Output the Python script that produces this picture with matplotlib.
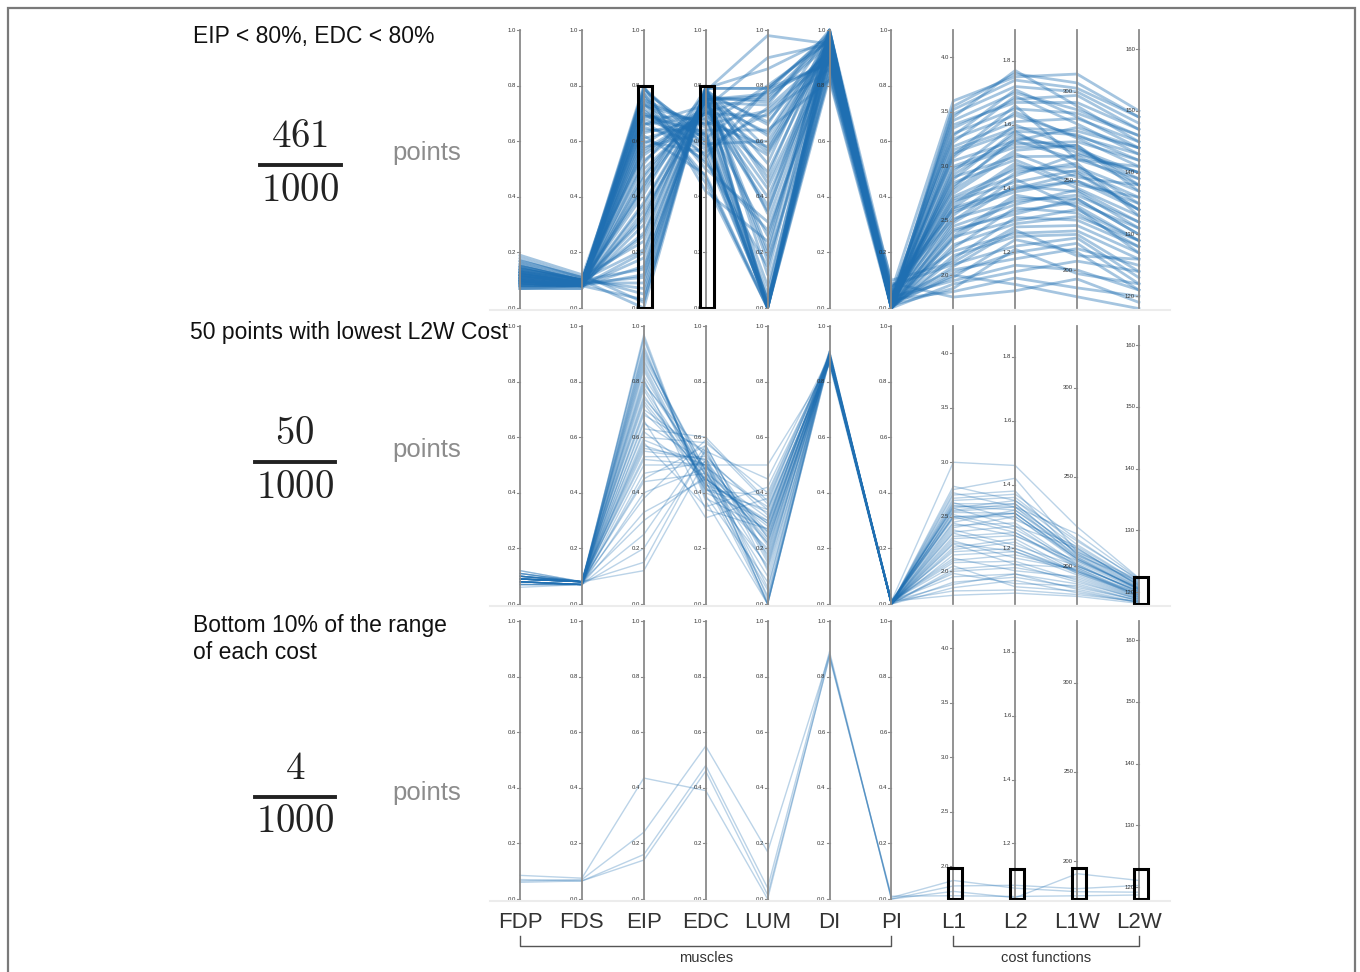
"""
Parallel coordinates: muscle activations (normalised) and cost functions,
three filtered subsets of 1000 sampled points.
"""
import numpy as np
import matplotlib
matplotlib.use("Agg")
import matplotlib.pyplot as plt
from matplotlib.patches import Rectangle
from matplotlib.lines import Line2D

plt.rcParams["font.family"] = ["Liberation Sans", "DejaVu Sans"]
plt.rcParams["mathtext.fontset"] = "cm"

W, H = 1360, 972
AXES_NAMES = ["FDP", "FDS", "EIP", "EDC", "LUM", "DI", "PI", "L1", "L2", "L1W", "L2W"]
# displayed range of each vertical axis (muscles are 0..1)
AXIS_RANGE = {"L1": (1.70, 4.25), "L2": (1.026, 1.897),
              "L1W": (178.7, 334.7), "L2W": (118.1, 163.1)}
MUSCLE_TICKS = [0.0, 0.2, 0.4, 0.6, 0.8, 1.0]
COST_TICKS = {"L1": [2.0, 2.5, 3.0, 3.5, 4.0], "L2": [1.2, 1.4, 1.6, 1.8],
              "L1W": [200, 250, 300], "L2W": [120, 130, 140, 150, 160]}
LINE_COLOR = "#1f6fb2"

# ---- panel 1 : EIP < 80%, EDC < 80%  (461 points, drawn subset) ----
p1_fdp = [0.12, 0.09, 0.15, 0.08, 0.11, 0.17, 0.10, 0.13,
          0.07, 0.14, 0.09, 0.12, 0.19, 0.10, 0.08, 0.13,
          0.11, 0.16, 0.09, 0.12, 0.10, 0.14, 0.08, 0.11,
          0.13, 0.07, 0.15, 0.10, 0.12, 0.09, 0.18, 0.11,
          0.13, 0.08, 0.10, 0.14, 0.12, 0.09, 0.11, 0.16,
          0.10, 0.13, 0.08, 0.12, 0.15, 0.09, 0.11, 0.14,
          0.10, 0.07, 0.12, 0.13, 0.09, 0.17, 0.11, 0.10,
          0.14, 0.08, 0.12, 0.11, 0.13, 0.09, 0.15, 0.10]
p1_fds = [0.09, 0.08, 0.10, 0.08, 0.09, 0.11, 0.08, 0.09,
          0.08, 0.10, 0.09, 0.09, 0.12, 0.08, 0.08, 0.09,
          0.09, 0.10, 0.08, 0.09, 0.08, 0.10, 0.08, 0.09,
          0.10, 0.07, 0.10, 0.08, 0.09, 0.08, 0.11, 0.09,
          0.09, 0.08, 0.08, 0.10, 0.09, 0.08, 0.09, 0.10,
          0.08, 0.09, 0.08, 0.09, 0.10, 0.08, 0.09, 0.10,
          0.08, 0.07, 0.09, 0.09, 0.08, 0.11, 0.09, 0.08,
          0.10, 0.08, 0.09, 0.09, 0.10, 0.08, 0.10, 0.08]
p1_eip = [0.78, 0.12, 0.55, 0.70, 0.33, 0.05, 0.62, 0.74,
          0.45, 0.21, 0.79, 0.66, 0.02, 0.58, 0.38, 0.72,
          0.27, 0.68, 0.50, 0.09, 0.76, 0.61, 0.15, 0.43,
          0.71, 0.35, 0.00, 0.64, 0.52, 0.77, 0.24, 0.69,
          0.41, 0.73, 0.18, 0.57, 0.80, 0.30, 0.65, 0.07,
          0.48, 0.75, 0.60, 0.26, 0.70, 0.53, 0.11, 0.67,
          0.37, 0.79, 0.44, 0.63, 0.20, 0.74, 0.59, 0.03,
          0.69, 0.47, 0.77, 0.32, 0.56, 0.73, 0.14, 0.66]
p1_edc = [0.62, 0.79, 0.70, 0.55, 0.76, 0.78, 0.48, 0.66,
          0.73, 0.77, 0.58, 0.69, 0.80, 0.63, 0.75, 0.52,
          0.78, 0.60, 0.71, 0.79, 0.45, 0.67, 0.76, 0.74,
          0.57, 0.72, 0.79, 0.64, 0.77, 0.50, 0.75, 0.68,
          0.78, 0.61, 0.73, 0.70, 0.42, 0.76, 0.59, 0.79,
          0.74, 0.65, 0.56, 0.78, 0.62, 0.71, 0.77, 0.53,
          0.75, 0.60, 0.79, 0.68, 0.76, 0.47, 0.72, 0.78,
          0.63, 0.74, 0.54, 0.77, 0.70, 0.66, 0.79, 0.73]
p1_lum = [0.00, 0.45, 0.78, 0.02, 0.62, 0.21, 0.00, 0.80,
          0.35, 0.01, 0.70, 0.55, 0.12, 0.00, 0.76, 0.28,
          0.66, 0.03, 0.49, 0.79, 0.00, 0.58, 0.17, 0.73,
          0.01, 0.40, 0.86, 0.64, 0.00, 0.31, 0.75, 0.08,
          0.52, 0.78, 0.02, 0.69, 0.24, 0.00, 0.60, 0.79,
          0.43, 0.05, 0.72, 0.98, 0.00, 0.37, 0.67, 0.15,
          0.77, 0.01, 0.57, 0.26, 0.74, 0.00, 0.90, 0.47,
          0.03, 0.63, 0.79, 0.19, 0.00, 0.71, 0.34, 0.56]
p1_di = [0.97, 0.92, 0.99, 0.88, 0.95, 1.00, 0.90, 0.96,
         0.93, 0.98, 0.86, 0.94, 1.00, 0.91, 0.97, 0.89,
         0.99, 0.84, 0.95, 0.98, 0.92, 0.96, 0.87, 1.00,
         0.94, 0.90, 0.97, 0.82, 0.99, 0.93, 0.95, 0.91,
         1.00, 0.88, 0.96, 0.93, 0.98, 0.85, 0.94, 0.97,
         0.90, 0.99, 0.92, 0.95, 0.87, 1.00, 0.93, 0.96,
         0.89, 0.98, 0.94, 0.91, 0.97, 0.83, 0.95, 0.99,
         0.92, 0.96, 0.88, 1.00, 0.94, 0.90, 0.98, 0.93]
p1_pi = [0.01, 0.03, 0.00, 0.05, 0.02, 0.00, 0.07, 0.01,
         0.02, 0.00, 0.04, 0.01, 0.09, 0.02, 0.00, 0.03,
         0.01, 0.06, 0.00, 0.02, 0.03, 0.01, 0.00, 0.04,
         0.02, 0.08, 0.01, 0.00, 0.03, 0.02, 0.05, 0.00,
         0.01, 0.03, 0.02, 0.00, 0.06, 0.01, 0.02, 0.04,
         0.00, 0.02, 0.10, 0.01, 0.03, 0.00, 0.02, 0.05,
         0.01, 0.00, 0.03, 0.02, 0.04, 0.01, 0.00, 0.07,
         0.02, 0.01, 0.03, 0.00, 0.02, 0.04, 0.01, 0.03]
p1_l1 = [2.45, 3.10, 1.92, 2.78, 3.42, 2.15, 2.60, 3.55,
         2.02, 2.88, 3.25, 2.33, 1.80, 2.70, 3.05, 2.50,
         3.35, 2.22, 2.95, 1.98, 2.62, 3.18, 2.40, 2.85,
         3.48, 2.10, 2.55, 3.00, 1.85, 2.75, 3.30, 2.28,
         2.92, 2.05, 3.15, 2.48, 3.60, 2.36, 2.68, 1.95,
         3.22, 2.58, 2.12, 3.38, 2.82, 2.25, 3.08, 2.65,
         1.88, 2.98, 3.45, 2.42, 2.72, 3.12, 2.18, 2.52,
         3.28, 2.08, 2.90, 2.35, 3.52, 2.62, 2.00, 2.80]
p1_l2 = [1.35, 1.66, 1.14, 1.52, 1.70, 1.31, 1.40, 1.76,
         1.20, 1.58, 1.63, 1.37, 1.08, 1.44, 1.55, 1.43,
         1.68, 1.26, 1.60, 1.24, 1.47, 1.61, 1.33, 1.49,
         1.72, 1.22, 1.45, 1.54, 1.12, 1.51, 1.65, 1.29,
         1.57, 1.18, 1.59, 1.41, 1.75, 1.38, 1.42, 1.16,
         1.69, 1.39, 1.28, 1.67, 1.55, 1.34, 1.64, 1.48,
         1.21, 1.53, 1.77, 1.32, 1.46, 1.58, 1.25, 1.36,
         1.71, 1.27, 1.50, 1.30, 1.74, 1.40, 1.10, 1.56]
p1_l1w = [245, 262, 205, 270, 290, 228, 250, 305,
          215, 258, 275, 240, 195, 265, 280, 235,
          298, 222, 268, 210, 255, 285, 238, 248,
          300, 218, 260, 272, 190, 252, 288, 230,
          266, 212, 278, 244, 310, 236, 256, 200,
          282, 250, 225, 294, 262, 232, 274, 246,
          198, 270, 292, 240, 258, 276, 220, 242,
          286, 208, 264, 234, 302, 254, 185, 268]
p1_l2w = [132, 141, 124, 138, 146, 128, 135, 149,
          122, 137, 143, 130, 119, 140, 144, 127,
          147, 126, 139, 121, 134, 145, 131, 136,
          148, 123, 133, 142, 120, 138, 146, 129,
          140, 125, 144, 131, 150, 129, 136, 121,
          143, 134, 127, 147, 139, 128, 141, 133,
          122, 137, 145, 130, 135, 142, 124, 132,
          144, 126, 138, 129, 149, 134, 118, 140]

# ---- panel 2 : 50 points with lowest L2W cost ----
p2_fdp = [0.09, 0.08, 0.10, 0.09, 0.07, 0.11, 0.08, 0.09, 0.10, 0.08,
          0.09, 0.12, 0.08, 0.09, 0.10, 0.07, 0.09, 0.08, 0.11, 0.09,
          0.08, 0.10, 0.09, 0.08, 0.06, 0.09, 0.10, 0.08, 0.09, 0.11,
          0.09, 0.08, 0.10, 0.09, 0.08, 0.12, 0.09, 0.07, 0.10, 0.08,
          0.09, 0.10, 0.08, 0.09, 0.11, 0.08, 0.09, 0.10, 0.07, 0.09]
p2_fds = [0.08, 0.07, 0.08, 0.08, 0.07, 0.08, 0.07, 0.08, 0.08, 0.07,
          0.08, 0.08, 0.07, 0.08, 0.08, 0.07, 0.08, 0.07, 0.08, 0.08,
          0.07, 0.08, 0.08, 0.07, 0.07, 0.08, 0.08, 0.07, 0.08, 0.08,
          0.08, 0.07, 0.08, 0.08, 0.07, 0.08, 0.08, 0.07, 0.08, 0.07,
          0.08, 0.08, 0.07, 0.08, 0.08, 0.07, 0.08, 0.08, 0.07, 0.08]
p2_eip = [0.82, 0.55, 0.93, 0.68, 0.40, 0.75, 0.97, 0.60, 0.87, 0.47,
          0.72, 0.15, 0.90, 0.58, 0.79, 0.33, 0.85, 0.63, 0.52, 0.95,
          0.70, 0.44, 0.88, 0.25, 0.77, 0.57, 0.91, 0.66, 0.12, 0.80,
          0.62, 0.84, 0.38, 0.74, 0.96, 0.53, 0.69, 0.20, 0.86, 0.59,
          0.78, 0.45, 0.92, 0.65, 0.30, 0.81, 0.56, 0.89, 0.50, 0.73]
p2_edc = [0.46, 0.52, 0.40, 0.55, 0.49, 0.44, 0.38, 0.58, 0.47, 0.51,
          0.43, 0.56, 0.48, 0.35, 0.53, 0.45, 0.42, 0.60, 0.50, 0.39,
          0.54, 0.47, 0.44, 0.57, 0.41, 0.50, 0.46, 0.31, 0.52, 0.48,
          0.45, 0.42, 0.59, 0.49, 0.37, 0.53, 0.47, 0.55, 0.43, 0.50,
          0.44, 0.57, 0.41, 0.51, 0.46, 0.34, 0.52, 0.48, 0.50, 0.45]
p2_lum = [0.22, 0.00, 0.30, 0.15, 0.35, 0.05, 0.27, 0.40, 0.18, 0.00,
          0.33, 0.12, 0.25, 0.42, 0.02, 0.29, 0.20, 0.37, 0.50, 0.08,
          0.24, 0.31, 0.00, 0.17, 0.34, 0.26, 0.10, 0.38, 0.21, 0.03,
          0.28, 0.14, 0.36, 0.23, 0.00, 0.32, 0.19, 0.45, 0.26, 0.06,
          0.30, 0.16, 0.39, 0.24, 0.01, 0.27, 0.34, 0.13, 0.22, 0.29]
p2_di = [0.89, 0.88, 0.90, 0.89, 0.87, 0.91, 0.88, 0.89, 0.90, 0.88,
         0.89, 0.87, 0.90, 0.88, 0.89, 0.91, 0.88, 0.89, 0.86, 0.90,
         0.89, 0.88, 0.90, 0.89, 0.87, 0.89, 0.90, 0.88, 0.89, 0.91,
         0.88, 0.89, 0.90, 0.87, 0.89, 0.88, 0.90, 0.89, 0.88, 0.89,
         0.90, 0.88, 0.89, 0.87, 0.90, 0.89, 0.88, 0.91, 0.89, 0.88]
p2_pi = [0.00, 0.01, 0.00, 0.00, 0.01, 0.00, 0.00, 0.01, 0.00, 0.00,
         0.01, 0.00, 0.00, 0.01, 0.00, 0.00, 0.00, 0.01, 0.00, 0.01,
         0.00, 0.00, 0.01, 0.00, 0.00, 0.01, 0.00, 0.00, 0.01, 0.00,
         0.00, 0.01, 0.00, 0.00, 0.00, 0.01, 0.00, 0.01, 0.00, 0.00,
         0.01, 0.00, 0.00, 0.01, 0.00, 0.00, 0.01, 0.00, 0.00, 0.01]
p2_l1 = [2.55, 2.10, 2.65, 2.30, 1.95, 2.75, 2.50, 2.05, 2.62, 2.20,
         3.00, 2.40, 1.85, 2.58, 2.25, 2.70, 2.00, 2.48, 2.35, 1.78,
         2.60, 2.15, 2.52, 2.78, 1.90, 2.45, 2.28, 2.63, 2.08, 2.38,
         2.56, 1.82, 2.67, 2.22, 2.50, 2.12, 2.42, 1.98, 2.60, 2.32,
         2.18, 2.54, 2.72, 1.88, 2.44, 2.26, 2.58, 2.02, 2.36, 2.50]
p2_l2 = [1.33, 1.18, 1.36, 1.24, 1.12, 1.42, 1.25, 1.08, 1.34, 1.22,
         1.46, 1.30, 1.10, 1.27, 1.15, 1.38, 1.14, 1.31, 1.20, 1.06,
         1.33, 1.19, 1.26, 1.35, 1.11, 1.32, 1.17, 1.29, 1.16, 1.21,
         1.34, 1.07, 1.37, 1.23, 1.30, 1.13, 1.28, 1.09, 1.32, 1.25,
         1.20, 1.31, 1.33, 1.12, 1.24, 1.19, 1.35, 1.15, 1.27, 1.31]
p2_l1w = [205, 198, 212, 201, 190, 208, 200, 186, 207, 196,
          222, 203, 185, 210, 199, 206, 193, 204, 197, 183,
          209, 195, 202, 214, 188, 206, 198, 211, 192, 200,
          207, 184, 215, 197, 204, 194, 201, 189, 208, 199,
          196, 205, 218, 187, 203, 197, 210, 191, 200, 204]
p2_l2w = [120.4, 119.2, 121.6, 119.8, 118.6, 122.0, 120.1, 118.3, 121.2, 119.6,
          122.3, 120.7, 118.4, 121.0, 119.4, 121.8, 118.9, 120.5, 119.9, 118.2,
          121.4, 119.1, 120.3, 122.1, 118.7, 120.8, 119.5, 121.5, 118.8, 120.2,
          120.9, 118.5, 121.9, 119.3, 120.6, 119.0, 120.0, 118.6, 121.3, 119.7,
          119.2, 120.7, 122.2, 118.4, 120.4, 119.6, 121.1, 118.9, 120.1, 120.5]

# ---- panel 3 : bottom 10% of the range of each cost ----
p3_fdp = [0.085, 0.065, 0.060, 0.070]
p3_fds = [0.075, 0.070, 0.065, 0.065]
p3_eip = [0.435, 0.240, 0.160, 0.140]
p3_edc = [0.390, 0.550, 0.480, 0.460]
p3_lum = [0.000, 0.170, 0.040, 0.015]
p3_di = [0.875, 0.880, 0.890, 0.870]
p3_pi = [0.005, 0.000, 0.000, 0.010]
p3_l1 = [1.87, 1.82, 1.77, 1.73]
p3_l2 = [1.060, 1.069, 1.030, 1.034]
p3_l1w = [182.8, 184.5, 192.9, 180.5]
p3_l2w = [119.2, 120.3, 121.1, 118.75]

# selection boxes (axis -> (low, high) in axis units)
p1_boxes = {"EIP": (0.0, 0.8), "EDC": (0.0, 0.8)}
p2_boxes = {"L2W": (118.1, 122.4)}
p3_boxes = {"L1": (1.70, 1.985), "L2": (1.026, 1.12),
            "L1W": (178.7, 196.0), "L2W": (118.1, 123.0)}

PANELS = [
    dict(cols=[p1_fdp, p1_fds, p1_eip, p1_edc, p1_lum, p1_di, p1_pi,
               p1_l1, p1_l2, p1_l1w, p1_l2w],
         boxes=p1_boxes, lw=2.0, alpha=0.4, top=30,
         title="EIP < 80%, EDC < 80%", title_xy=(193, 36),
         num="461", frac_x=300, num_y=137, bar_y=165, den_y=191, bar=(260, 341),
         pts_y=153),
    dict(cols=[p2_fdp, p2_fds, p2_eip, p2_edc, p2_lum, p2_di, p2_pi,
               p2_l1, p2_l2, p2_l1w, p2_l2w],
         boxes=p2_boxes, lw=1.0, alpha=0.3, top=326,
         title="50 points with lowest L2W Cost", title_xy=(190, 333),
         num="50", frac_x=295, num_y=434, bar_y=462, den_y=488, bar=(255, 335),
         pts_y=450),
    dict(cols=[p3_fdp, p3_fds, p3_eip, p3_edc, p3_lum, p3_di, p3_pi,
               p3_l1, p3_l2, p3_l1w, p3_l2w],
         boxes=p3_boxes, lw=1.0, alpha=0.3, top=621,
         title="Bottom 10% of the range\nof each cost", title_xy=(193, 614),
         num="4", frac_x=295, num_y=769, bar_y=797, den_y=822, bar=(255, 335),
         pts_y=793),
]
PANEL_H = 278
X_LEFT, X_RIGHT = 490, 1170
FIRST_AXIS, AXIS_STEP = 520, 61.9


def to_unit(name, vals):
    lo, hi = AXIS_RANGE.get(name, (0.0, 1.0))
    return (np.asarray(vals, dtype=float) - lo) / (hi - lo)


def fx(x):
    return x / W


def fy(y):
    return 1 - y / H


def tick_label(name, v):
    if name in ("L1W", "L2W"):
        return f"{v:.0f}"
    return f"{v:.1f}"


def draw_panel(fig, p):
    top = p["top"]
    ax = fig.add_axes([fx(X_LEFT), fy(top + PANEL_H), fx(X_RIGHT) - fx(X_LEFT), PANEL_H / H])
    x0 = -(FIRST_AXIS - X_LEFT) / AXIS_STEP
    x1 = x0 + (X_RIGHT - X_LEFT) / AXIS_STEP
    ax.set_xlim(x0, x1)
    ax.set_ylim(0, 1)
    ax.axis("off")

    xs = np.arange(len(AXES_NAMES))
    ys = np.vstack([to_unit(n, c) for n, c in zip(AXES_NAMES, p["cols"])])
    ax.plot(xs, ys, color=LINE_COLOR, lw=p["lw"], alpha=p["alpha"],
            solid_joinstyle="round", clip_on=False, zorder=2)

    tl = 3.0 / AXIS_STEP
    for i, name in enumerate(AXES_NAMES):
        ax.plot([i, i], [0, 1], color="#8a8a8a", lw=1.3, zorder=3, clip_on=False)
        ticks = COST_TICKS.get(name, MUSCLE_TICKS)
        for v in ticks:
            y = float(to_unit(name, v))
            ax.plot([i - tl, i], [y, y], color="#8a8a8a", lw=0.8, zorder=3, clip_on=False)
            ax.text(i - tl * 1.3, y, tick_label(name, v), ha="right", va="center",
                    fontsize=4.3, color="#333333", zorder=4)

    for name, (lo, hi) in p["boxes"].items():
        i = AXES_NAMES.index(name)
        ylo, yhi = float(to_unit(name, lo)), float(to_unit(name, hi))
        bw = 14 / AXIS_STEP
        ax.add_patch(Rectangle((i - bw / 2 + 1.5 / AXIS_STEP, ylo), bw, yhi - ylo,
                               fill=False, ec="black", lw=2.2, zorder=5, clip_on=False))

    # faint separator under panel
    fig.add_artist(Line2D([fx(X_LEFT), fx(X_RIGHT)], [fy(top + PANEL_H + 2)] * 2,
                          color="#ececec", lw=1.5))

    # captions at the left
    fig.text(fx(p["title_xy"][0]), fy(p["title_xy"][1]), p["title"],
             ha="left", va="top" if "\n" in p["title"] else "center",
             fontsize=16.5, color="#111111", linespacing=1.2)
    fig.text(fx(p["frac_x"]), fy(p["num_y"]), f"${p['num']}$", ha="center",
             va="center", fontsize=28, color="#222222")
    fig.text(fx(p["frac_x"]), fy(p["den_y"]), "$1000$", ha="center",
             va="center", fontsize=28, color="#222222")
    fig.add_artist(Line2D([fx(p["bar"][0]), fx(p["bar"][1])], [fy(p["bar_y"])] * 2,
                          color="#222222", lw=2.8))
    fig.text(fx(392), fy(p["pts_y"]), "points", ha="left", va="center",
             fontsize=18.5, color="#8c8c8c")


fig = plt.figure(figsize=(W / 100, H / 100), dpi=100)
for p in PANELS:
    draw_panel(fig, p)

# axis names along the bottom
for i, name in enumerate(AXES_NAMES):
    fig.text(fx(FIRST_AXIS + i * AXIS_STEP), fy(922), name, ha="center", va="center",
             fontsize=16, color="#333333")

# group brackets
for a, b, label in [(0, 6, "muscles"), (7, 10, "cost functions")]:
    xa, xb = FIRST_AXIS + a * AXIS_STEP, FIRST_AXIS + b * AXIS_STEP
    fig.add_artist(Line2D([fx(xa), fx(xa), fx(xb), fx(xb)],
                          [fy(936), fy(946), fy(946), fy(936)],
                          color="#555555", lw=1.0))
    fig.text(fx((xa + xb) / 2), fy(958), label, ha="center", va="center",
             fontsize=10.5, color="#333333")

# outer frame
fig.add_artist(Rectangle((fx(8), fy(990)), fx(1355) - fx(8), fy(8) - fy(990),
                         fill=False, ec="#7a7a7a", lw=1.6, transform=fig.transFigure))

fig.savefig("out.png", dpi=100)
